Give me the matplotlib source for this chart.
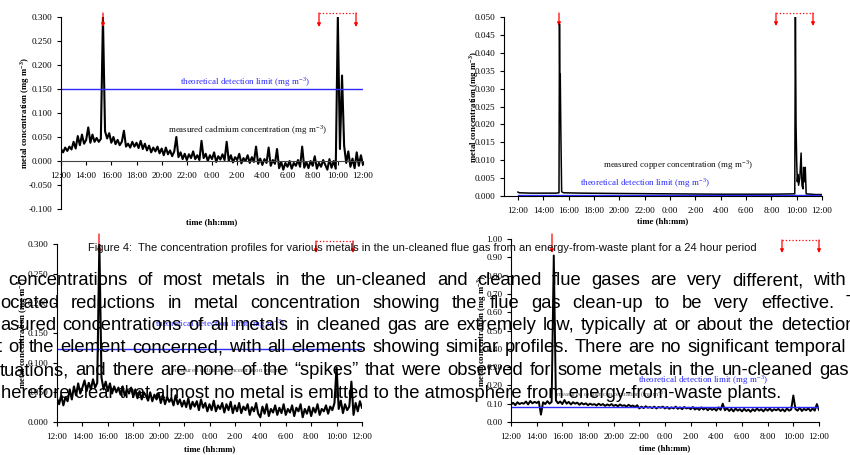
import numpy as np
import matplotlib
matplotlib.use('Agg')
import matplotlib.pyplot as plt
from matplotlib.lines import Line2D

plt.rcParams['font.family'] = 'Liberation Serif'
plt.rcParams['mathtext.fontset'] = 'custom'
plt.rcParams['mathtext.rm'] = 'Liberation Serif'
plt.rcParams['mathtext.bf'] = 'Liberation Serif:bold'

# ---- data ----
hour_labels = ['12:00', '14:00', '16:00', '18:00', '20:00', '22:00', '0:00',
               '2:00', '4:00', '6:00', '8:00', '10:00', '12:00']

# 10-minute samples, 12:00 -> 12:00 next day
cd_raw = [
    0.025, 0.018, 0.028, 0.021, 0.030, 0.024,
    0.040, 0.026, 0.052, 0.033, 0.055, 0.036,
    0.044, 0.070, 0.038, 0.055, 0.040, 0.048,
    0.040, 0.046, 0.300, 0.062, 0.047, 0.058,
    0.038, 0.050, 0.035, 0.044, 0.033, 0.040,
    0.063, 0.030, 0.036, 0.028, 0.040, 0.030,
    0.038, 0.027, 0.042, 0.025, 0.036, 0.022,
    0.032, 0.018, 0.028, 0.020, 0.030, 0.016,
    0.026, 0.012, 0.028, 0.014, 0.022, 0.010,
    0.020, 0.050, 0.008, 0.018, 0.004, 0.015,
    0.002, 0.014, 0.006, 0.020, 0.004, 0.012,
    0.002, 0.042, 0.006, 0.015, 0.000, 0.012,
    0.004, 0.018, -0.002, 0.010, 0.003, 0.014,
    0.002, 0.040, 0.000, 0.012, -0.003, 0.008,
    0.002, 0.015, -0.005, 0.006, 0.000, 0.012,
    -0.004, 0.008, -0.002, 0.030, -0.006, 0.005,
    -0.008, 0.004, -0.004, 0.028, -0.010, 0.002,
    -0.006, 0.025, -0.015, -0.002, -0.018, -0.004,
    -0.012, 0.000, -0.016, -0.004, -0.010, 0.002,
    -0.012, 0.030, -0.014, -0.002, -0.015, 0.000,
    -0.010, 0.010, -0.016, -0.004, -0.012, 0.002,
    -0.008, -0.018, 0.004, -0.014, 0.000, -0.016,
    0.300, 0.025, 0.178, 0.032, -0.004, 0.020,
    -0.012, 0.005, -0.015, 0.018, -0.010, 0.012,
    -0.008]

cd_clean = [
    0.040, 0.030, 0.045, 0.028, 0.042, 0.035,
    0.055, 0.038, 0.060, 0.045, 0.065, 0.048,
    0.058, 0.070, 0.052, 0.066, 0.055, 0.072,
    0.058, 0.066, 0.300, 0.075, 0.055, 0.068,
    0.052, 0.065, 0.048, 0.060, 0.050, 0.058,
    0.046, 0.060, 0.044, 0.055, 0.048, 0.058,
    0.042, 0.055, 0.040, 0.052, 0.038, 0.050,
    0.044, 0.036, 0.050, 0.035, 0.046, 0.038,
    0.048, 0.032, 0.045, 0.030, 0.042, 0.034,
    0.040, 0.028, 0.045, 0.030, 0.038, 0.026,
    0.036, 0.025, 0.040, 0.022, 0.034, 0.026,
    0.035, 0.020, 0.038, 0.024, 0.032, 0.018,
    0.030, 0.020, 0.036, 0.018, 0.028, 0.022,
    0.032, 0.016, 0.030, 0.020, 0.034, 0.015,
    0.028, 0.018, 0.032, 0.015, 0.026, 0.020,
    0.030, 0.012, 0.025, 0.018, 0.032, 0.014,
    0.008, 0.026, 0.014, 0.030, 0.010, 0.022,
    0.016, 0.028, 0.012, 0.024, 0.015, 0.030,
    0.012, 0.022, 0.016, 0.028, 0.010, 0.024,
    0.018, 0.030, 0.008, 0.022, 0.014, 0.026,
    0.010, 0.024, 0.016, 0.030, 0.012, 0.022,
    0.018, 0.028, 0.014, 0.026, 0.020, 0.032,
    0.092, 0.022, 0.036, 0.015, 0.030, 0.020,
    0.026, 0.068, 0.012, 0.032, 0.018, 0.035,
    0.024]

metal_clean = [
    0.095, 0.105, 0.092, 0.108, 0.098, 0.104,
    0.100, 0.112, 0.096, 0.115, 0.102, 0.110,
    0.104, 0.112, 0.040, 0.108, 0.098, 0.114,
    0.100, 0.110, 0.910, 0.118, 0.102, 0.112,
    0.098, 0.120, 0.100, 0.110, 0.096, 0.108,
    0.100, 0.106, 0.094, 0.104, 0.096, 0.102,
    0.092, 0.100, 0.094, 0.098, 0.090, 0.100,
    0.092, 0.098, 0.088, 0.096, 0.090, 0.098,
    0.088, 0.094, 0.086, 0.096, 0.088, 0.092,
    0.084, 0.094, 0.086, 0.090, 0.082, 0.092,
    0.074, 0.084, 0.076, 0.086, 0.078, 0.082,
    0.076, 0.084, 0.074, 0.082, 0.078, 0.084,
    0.074, 0.082, 0.072, 0.080, 0.074, 0.084,
    0.072, 0.080, 0.070, 0.082, 0.074, 0.078,
    0.070, 0.082, 0.068, 0.076, 0.066, 0.080,
    0.068, 0.078, 0.064, 0.076, 0.066, 0.074,
    0.062, 0.080, 0.066, 0.100, 0.064, 0.076,
    0.060, 0.072, 0.058, 0.074, 0.062, 0.070,
    0.058, 0.072, 0.060, 0.068, 0.056, 0.070,
    0.060, 0.074, 0.062, 0.070, 0.058, 0.072,
    0.062, 0.074, 0.060, 0.070, 0.064, 0.072,
    0.060, 0.070, 0.058, 0.074, 0.062, 0.068,
    0.145, 0.070, 0.062, 0.078, 0.060, 0.072,
    0.064, 0.076, 0.060, 0.074, 0.062, 0.098,
    0.066]

cu_t = [0, 0.1, 1, 2, 3, 3.24, 3.28, 3.31, 3.34, 3.38, 3.45, 3.6, 5, 8, 12, 16,
        20, 21.85, 21.9, 21.95, 22.0, 22.05, 22.1, 22.15, 22.25, 22.35, 22.42,
        22.5, 22.55, 22.62, 22.68, 22.75, 23.5, 24]
cu_raw = [0.0011, 0.0009, 0.0008, 0.0008, 0.0008, 0.0009, 0.048, 0.030, 0.034,
          0.020, 0.0012, 0.0009, 0.0008, 0.0007, 0.0006, 0.0005, 0.0005, 0.0006,
          0.050, 0.020, 0.010, 0.004, 0.006, 0.003, 0.005, 0.012, 0.003, 0.002,
          0.008, 0.004, 0.008, 0.0006, 0.0004, 0.0004]

det_cd_raw = 0.150
det_cu_raw = 0.0002
det_cd_clean = 0.123
det_metal_clean = 0.080

t10 = np.arange(len(cd_raw)) / 6.0

W, H = 850, 455
fig = plt.figure(figsize=(W / 100, H / 100), dpi=100)
fig.patch.set_facecolor('white')
BLUE = '#2a2aff'
YLAB = 'metal concentration (mg m$^{\\mathbf{-3}}$)'


def px_axes(l, t, r, b):
    return fig.add_axes([l / W, 1 - b / H, (r - l) / W, (b - t) / H])


def style(ax, ylim, ystep, yfmt, xlim, ylab_x, xlab_y):
    for s in ['top', 'right']:
        ax.spines[s].set_visible(False)
    ax.set_xlim(*xlim)
    ax.set_ylim(*ylim)
    ax.set_xticks(np.arange(0, 25, 2))
    ax.set_xticklabels(hour_labels)
    yt = np.arange(ylim[0], ylim[1] + ystep / 2, ystep)
    ax.set_yticks(yt)
    ax.set_yticklabels([yfmt % v for v in yt])
    ax.tick_params(direction='out', length=3, width=0.8, labelsize=6.6, pad=3)
    ax.tick_params(axis='x', pad=5)
    ax.set_xlabel('time (hh:mm)', fontsize=6.3, fontweight='bold')
    ax.set_ylabel(YLAB, fontsize=6.3, fontweight='bold')
    ax.xaxis.set_label_coords(0.5, xlab_y)
    ax.yaxis.set_label_coords(ylab_x, 0.5)
    ax.patch.set_alpha(0)


# top left: cadmium, un-cleaned
ax1 = px_axes(61, 17, 363, 209)
ax1.plot(t10, cd_raw, color='black', lw=1.5)
ax1.plot([0, 24], [det_cd_raw] * 2, color=BLUE, lw=1.0)
style(ax1, (-0.1, 0.3), 0.05, '%.3f', (0, 24), -0.097, -0.047)
ax1.spines['bottom'].set_position(('data', 0))
ax1.spines['bottom'].set_color('#444444')
ax1.text(0.608, 0.661, 'theoretical detection limit (mg m$^{-3}$)', transform=ax1.transAxes,
         ha='center', va='center', fontsize=6.5, color=BLUE)
ax1.text(0.619, 0.411, 'measured cadmium concentration (mg m$^{-3}$)', transform=ax1.transAxes,
         ha='center', va='center', fontsize=6.5, color='#111111')

# top right: copper, un-cleaned
ax2 = px_axes(504, 17, 822, 196)
ax2.plot(cu_t, cu_raw, color='black', lw=1.1)
ax2.plot([0, 24], [det_cu_raw] * 2, color=BLUE, lw=1.0)
style(ax2, (0, 0.05), 0.005, '%.3f', (-1.1, 24), -0.073, -0.117)
ax2.text(0.546, 0.173, 'measured copper concentration (mg m$^{-3}$)', transform=ax2.transAxes,
         ha='center', va='center', fontsize=6.5, color='#111111')
ax2.text(0.443, 0.073, 'theoretical detection limit (mg m$^{-3}$)', transform=ax2.transAxes,
         ha='center', va='center', fontsize=6.5, color=BLUE)

# bottom left
ax3 = px_axes(57, 244, 362, 422)
ax3.plot(t10, cd_clean, color='black', lw=1.5)
ax3.plot([0, 24], [det_cd_clean] * 2, color=BLUE, lw=1.0)
style(ax3, (0, 0.3), 0.05, '%.3f', (0, 24), -0.088, -0.129)
ax3.text(0.533, 0.55, 'theoretical detection limit (mg m$^{-3}$)', transform=ax3.transAxes,
         ha='center', va='center', fontsize=6.5, color=BLUE)
ax3.text(0.57, 0.29, 'measured cadmium concentration (mg m$^{-3}$)', transform=ax3.transAxes,
         ha='center', va='center', fontsize=4.8, color='#555555')

# bottom right
ax4 = px_axes(511, 239, 819, 422)
ax4.plot(t10, metal_clean, color='black', lw=1.4)
ax4.plot([0, 24], [det_metal_clean] * 2, color=BLUE, lw=1.0)
style(ax4, (0, 1.0), 0.1, '%.2f', (0, 24), -0.072, -0.12)
ax4.text(0.625, 0.23, 'theoretical detection limit (mg m$^{-3}$)', transform=ax4.transAxes,
         ha='center', va='center', fontsize=6.5, color=BLUE)
ax4.text(0.326, 0.148, 'measured copper concentration (mg m$^{-3}$)', transform=ax4.transAxes,
         ha='center', va='center', fontsize=4.8, color='#555555')


# red markers drawn over the charts (pixel positions, top origin)
def red_arrow(x, y0, y1):
    ax1.annotate('', xy=(x, H - y1), xytext=(x, H - y0), xycoords='figure pixels',
                 textcoords='figure pixels', annotation_clip=False,
                 arrowprops=dict(arrowstyle='-|>', color='red', lw=0.9, mutation_scale=5,
                                 shrinkA=0, shrinkB=0))


def red_bracket(x1, x2, y, y1):
    fig.add_artist(Line2D([x1 / W, x2 / W], [1 - y / H] * 2, transform=fig.transFigure,
                          color='red', ls=':', lw=0.9))
    red_arrow(x1, y, y1)
    red_arrow(x2, y, y1)


red_arrow(103, 13, 27)
red_bracket(319, 356, 13, 27)
red_arrow(559, 13, 26)
red_bracket(776, 813, 13, 26)
red_arrow(99, 234, 253)
red_bracket(316, 353, 241, 253)
red_arrow(552, 234, 253)
red_bracket(782, 819, 240, 253)

rend = fig.canvas.get_renderer()

# caption
caption = ('Figure 4:  The concentration profiles for various metals in the un-cleaned flue gas '
           'from an energy-from-waste plant for a 24 hour period')
cap = fig.text(88 / W, 1 - 250.5 / H, caption, family='Liberation Sans', fontsize=8,
               va='baseline', color='#111111', zorder=5)
cw = cap.get_window_extent(renderer=rend).width
cap.set_fontsize(8 * (756 - 88) / cw)

# body text overlapping the lower charts
last_line = 'herefore clear that almost no metal is emitted to the atmosphere from energy-from-waste plants.'
probe = fig.text(0, 0, last_line, family='Liberation Sans', fontsize=13)
pw = probe.get_window_extent(renderer=rend).width
probe.remove()
FS = 13 * (778 - 1) / pw

lines = [
    ('concentrations of most metals in the un-cleaned and cleaned flue gases are very different, with', 8, 813, 285),
    ('ociated reductions in metal concentration showing the flue gas clean-up to be very effective. The', 0, 846, 307.5),
    ('asured concentrations of all metals in cleaned gas are extremely low, typically at or about the detection', 0, 781, 330),
    ('t of the element concerned, with all elements showing similar profiles. There are no significant temporal', -3, 775, 352.5),
    ('tuations, and there are none of the \u201cspikes\u201d that were observed for some metals in the un-cleaned gas', 0, 819, 375),
]

for text, x0, xl, base in lines:
    words = text.split(' ')
    arts = [fig.text(0, 1 - base / H, w, family='Liberation Sans', fontsize=FS,
                     va='baseline', color='black', zorder=6) for w in words]
    wid = [a.get_window_extent(renderer=rend).width for a in arts]
    gap = (xl - x0 - sum(wid[:-1])) / (len(words) - 1)
    x = x0
    for a, w in zip(arts, wid):
        a.set_x(x / W)
        x += w + gap

fig.text(1 / W, 1 - 397.5 / H, last_line, family='Liberation Sans', fontsize=FS,
         va='baseline', color='black', zorder=6)

fig.savefig('out.png', dpi=100)
